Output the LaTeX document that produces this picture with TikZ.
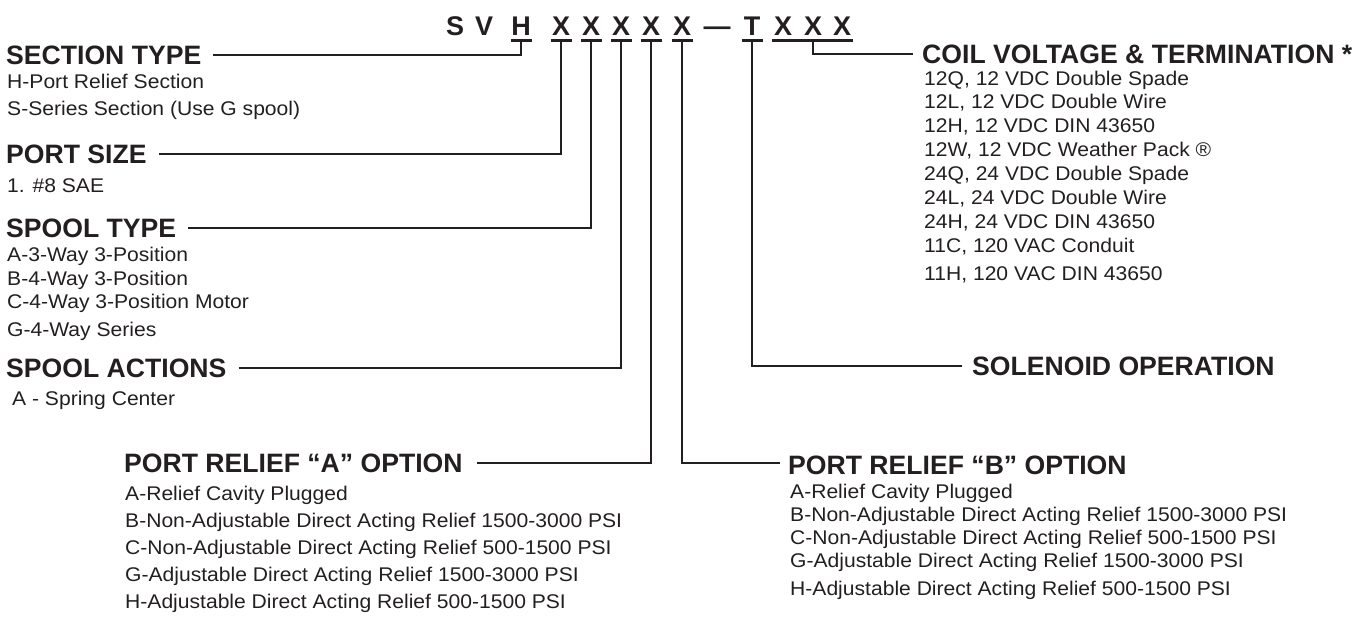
\documentclass[tikz,border=0pt]{standalone}
\usepackage{fontspec}
\setmainfont{Liberation Sans}
\newfontfamily\bodyfont[FakeStretch=1.065]{Liberation Sans}
\definecolor{ink}{HTML}{231F20}

\begin{document}
\begin{tikzpicture}[x=1pt,y=-1pt,
  code/.style={font=\bfseries\fontsize{27}{27}\selectfont,text=ink,inner sep=0pt,anchor=base},
  head/.style={font=\bfseries\fontsize{26.6}{26.6}\selectfont,text=ink,inner sep=0pt,anchor=base west},
  item/.style={font=\bodyfont\fontsize{19.8}{19.8}\selectfont,text=ink,inner sep=0pt,anchor=base west},
  uline/.style={draw=ink,line width=2.4pt},
  lead/.style={draw=ink,line width=2pt}]
\useasboundingbox (0,0) rectangle (1363,616);

% part number
\foreach \n/\x/\t in {S/455/S,V/484/V,H/521/H,X1/561/X,X2/591/X,X3/621/X,X4/651/X,
                      X5/682/X,D/717/—,T/752/T,X6/783/X,X7/813/X,X8/842/X}
  \node[code] (c\n) at (\x,35) {\t};
\foreach \n in {H,X1,X2,X3,X4,X5,T}{
  \draw[uline] ([shift={(-10.5,5.5)}]c\n.base) -- ([shift={(10.5,5.5)}]c\n.base);
  \coordinate (u\n) at ([yshift=-5.5pt]c\n.base);
}
\draw[uline] ([shift={(-11,5.5)}]cX6.base) -- ([shift={(11,5.5)}]cX8.base);
\coordinate (uX7) at ([yshift=-5.5pt]cX7.base);

% left column
\node[head] (secType) at (6,64.5) {SECTION TYPE};
\draw[lead] ([shift={(12,-9.5)}]secType.base east) -| (uH);
\node[head] (portSize) at (6,163.5) {PORT SIZE};
\draw[lead] ([shift={(12,-9.5)}]portSize.base east) -| (uX1);
\node[head] (spoolType) at (6,237.5) {SPOOL TYPE};
\draw[lead] ([shift={(12,-9.5)}]spoolType.base east) -| (uX2);
\node[head] (spoolAct) at (6,377.5) {SPOOL ACTIONS};
\draw[lead] ([shift={(12,-9.5)}]spoolAct.base east) -| (uX3);

\foreach \y/\t [count=\i] in {88.3/H-Port Relief Section,115/S-Series Section (Use G spool)}
  \node[item] (sec\i) at (7,\y) {\t};
\node[item] (size1) at (7,192) {1. \#8 SAE};
\foreach \y/\t [count=\i] in {261.7/A-3-Way 3-Position,285/B-4-Way 3-Position,
                             308.3/C-4-Way 3-Position Motor,336.7/G-4-Way Series}
  \node[item] (type\i) at (7,\y) {\t};
\node[item] (act1) at (12,405) {A - Spring Center};

% bottom
\node[head] (reliefA) at (124,472) {PORT RELIEF “A” OPTION};
\draw[lead] ([shift={(14,-9.5)}]reliefA.base east) -| (uX4);
\node[head] (reliefB) at (788,474.5) {PORT RELIEF “B” OPTION};
\draw[lead] (uX5) |- ([shift={(-8,-11.5)}]reliefB.base west);

\foreach \y/\t [count=\i] in {500/A-Relief Cavity Plugged,
    527.5/B-Non-Adjustable Direct Acting Relief 1500-3000 PSI,
    554.5/C-Non-Adjustable Direct Acting Relief 500-1500 PSI,
    581.5/G-Adjustable Direct Acting Relief 1500-3000 PSI,
    608/H-Adjustable Direct Acting Relief 500-1500 PSI}
  \node[item] (optA\i) at (125,\y) {\t};
\foreach \y/\t [count=\i] in {498.5/A-Relief Cavity Plugged,
    521.5/B-Non-Adjustable Direct Acting Relief 1500-3000 PSI,
    544.5/C-Non-Adjustable Direct Acting Relief 500-1500 PSI,
    567.5/G-Adjustable Direct Acting Relief 1500-3000 PSI,
    595.5/H-Adjustable Direct Acting Relief 500-1500 PSI}
  \node[item] (optB\i) at (790,\y) {\t};

% right column
\node[head] (solenoid) at (972,375) {SOLENOID OPERATION};
\draw[lead] (uT) |- ([shift={(-10,-9.5)}]solenoid.base west);
\node[head] (coil) at (922,63) {COIL VOLTAGE \& TERMINATION *};
\draw[lead] (uX7) |- ([shift={(-9,-9.5)}]coil.base west);

\foreach \y/\t [count=\i] in {85/{12Q, 12 VDC Double Spade},108.5/{12L, 12 VDC Double Wire},
    132/{12H, 12 VDC DIN 43650},156/{12W, 12 VDC Weather Pack ®},
    180/{24Q, 24 VDC Double Spade},204/{24L, 24 VDC Double Wire},
    228/{24H, 24 VDC DIN 43650},252/{11C, 120 VAC Conduit},280/{11H, 120 VAC DIN 43650}}
  \node[item] (volt\i) at (924,\y) {\t};
\end{tikzpicture}
\end{document}
